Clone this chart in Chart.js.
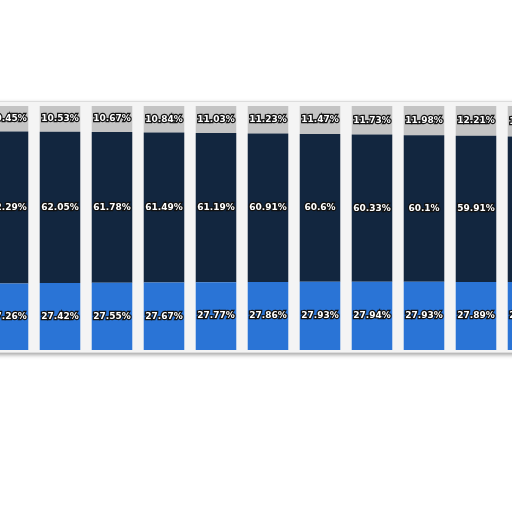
<!DOCTYPE html>
<html lang="en">
<head>
  <meta charset="utf-8">
  <title>Stacked share</title>
  <style>
    * { box-sizing: border-box; margin: 0; padding: 0; }
    html, body { width: 512px; height: 512px; overflow: hidden; background: #fff; }
    #frame { position: absolute; left: -10px; top: 101px; width: 540px; height: 252px; background: #f4f4f4; border: 1px solid #ddd; box-shadow: 0 2px 4px rgba(0,0,0,0.35); }
    #wrap { position: absolute; left: -18px; top: 106px; width: 624px; height: 244px; }
  </style>
  <script src="https://cdn.jsdelivr.net/npm/chart.js"></script>
</head>
<body>
  <div id="frame"></div>
  <div id="wrap"><canvas id="chart"></canvas></div>
  <script>
    const categories = ['1','2','3','4','5','6','7','8','9','10','11','12'];
    const topShare = [10.45, 10.53, 10.67, 10.84, 11.03, 11.23, 11.47, 11.73, 11.98, 12.21, 12.45, 12.7];
    const midShare = [62.29, 62.05, 61.78, 61.49, 61.19, 60.91, 60.6, 60.33, 60.1, 59.91, 59.7, 59.5];
    const lowShare = [27.26, 27.42, 27.55, 27.67, 27.77, 27.86, 27.93, 27.94, 27.93, 27.89, 27.85, 27.8];

    // outlined labels in the middle of each segment
    const labelPlugin = {
      id: 'segLabels',
      afterDatasetsDraw(chart) {
        const ctx = chart.ctx;
        ctx.save();
        ctx.font = 'bold 9px "DejaVu Sans", sans-serif';
        ctx.textAlign = 'center';
        ctx.textBaseline = 'middle';
        ctx.lineWidth = 2.5;
        ctx.strokeStyle = '#111';
        ctx.fillStyle = '#fff';
        chart.data.datasets.forEach((ds, i) => {
          chart.getDatasetMeta(i).data.forEach((bar, j) => {
            const y = (bar.y + bar.base) / 2;
            const txt = ds.data[j] + '%';
            ctx.strokeText(txt, bar.x, y);
            ctx.fillText(txt, bar.x, y);
          });
        });
        ctx.restore();
      }
    };

    new Chart(document.getElementById('chart'), {
      type: 'bar',
      data: {
        labels: categories,
        datasets: [
          { label: 'low', data: lowShare, backgroundColor: '#2a74d6' },
          { label: 'mid', data: midShare, backgroundColor: '#12263f' },
          { label: 'top', data: topShare, backgroundColor: '#c4c4c4' }
        ]
      },
      options: {
        responsive: true, maintainAspectRatio: false, animation: false,
        layout: { padding: 0 },
        categoryPercentage: 1, barPercentage: 0.78,
        plugins: { legend: { display: false }, tooltip: { enabled: false } },
        scales: {
          x: { stacked: true, display: false },
          y: { stacked: true, display: false, min: 0, max: 100 }
        }
      },
      plugins: [labelPlugin]
    });
  </script>
</body>
</html>
